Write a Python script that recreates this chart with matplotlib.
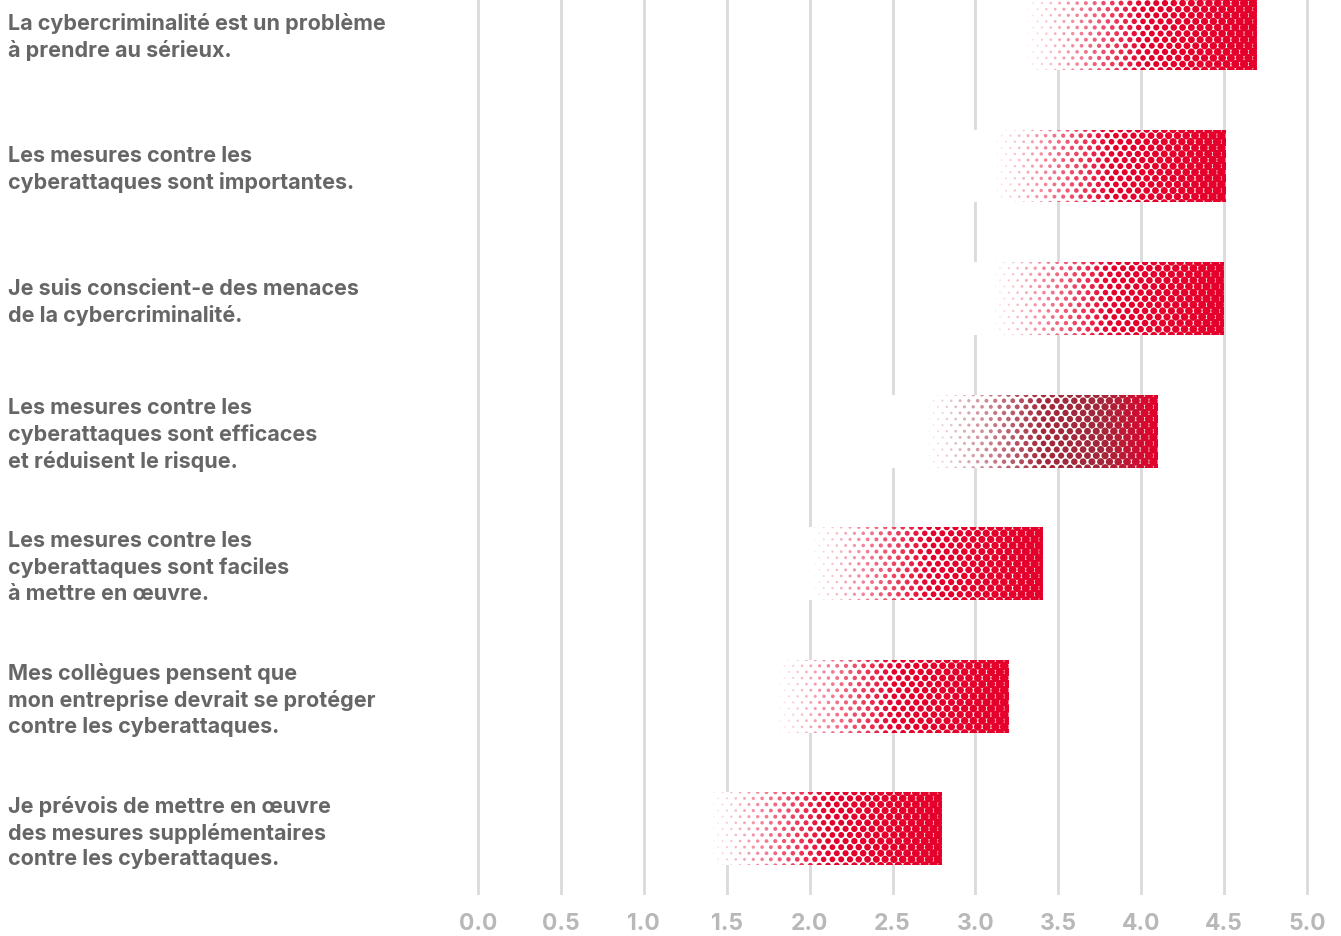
import numpy as np
import matplotlib.pyplot as plt
from matplotlib import transforms
from matplotlib.colors import to_rgb

labels = [
    'La cybercriminalité est un problème\nà prendre au sérieux.',
    'Les mesures contre les\ncyberattaques sont importantes.',
    'Je suis conscient-e des menaces\nde la cybercriminalité.',
    'Les mesures contre les\ncyberattaques sont efficaces\net réduisent le risque.',
    'Les mesures contre les\ncyberattaques sont faciles\nà mettre en œuvre.',
    'Mes collègues pensent que\nmon entreprise devrait se protéger\ncontre les cyberattaques.',
    'Je prévois de mettre en œuvre\ndes mesures supplémentaires\ncontre les cyberattaques.',
]
values = [4.70, 4.51, 4.50, 4.10, 3.41, 3.20, 2.80]
dark_bar = [False, False, False, True, False, False, False]
ticks = [0.0, 0.5, 1.0, 1.5, 2.0, 2.5, 3.0, 3.5, 4.0, 4.5, 5.0]

RED = np.array(to_rgb('#e4002b'))
DARK = np.array(to_rgb('#a1283a'))
WHITE = np.ones(3)

plt.rcParams['font.family'] = ['Inter', 'DejaVu Sans']

fig = plt.figure(figsize=(13.41, 9.37), dpi=100)
ax = fig.add_axes([469.7 / 1341, 41 / 937, 845.6 / 1341, 896 / 937])
ax.set_xlim(-0.05, 5.05)
ax.set_ylim(6.5, -0.26)
for s in ax.spines.values():
    s.set_visible(False)
ax.tick_params(left=False, bottom=False, labelleft=False)
ax.set_xticks(ticks)
ax.set_xticklabels([f'{t:.1f}' for t in ticks], fontsize=16.5, fontweight='bold', color='#b8b8b8')
ax.tick_params(axis='x', pad=9)
ax.set_yticks([])

ax.vlines(ticks, -0.26, 6.5, color='#dadada', lw=2, zorder=1)

bar_h = 0.55
fade = 1.38
white_len = 1.65
dx = 0.053
dy = 0.046
dmax = 6.2  # points

for i, (v, dark) in enumerate(zip(values, dark_bar)):
    rects = ax.barh(i, white_len, left=v - white_len, height=bar_h, color='white', zorder=2)
    rect = rects[0]
    xs, ys, sizes, cols = [], [], [], []
    nrows = int(bar_h / dy) + 3
    for r in range(nrows):
        yy = i - bar_h / 2 + r * dy
        off = (r % 2) * dx / 2
        x = v + off
        while x > v - fade:
            t = (x - (v - fade)) / fade
            t = min(max(t, 0.0), 1.0)
            a = min(1.0, 0.1 + 1.8 * t)
            base = RED
            if dark:
                k = min(1.0, max(0.0, (t - 0.75) / 0.25))
                base = DARK * (1 - k) + RED * k
            c = WHITE * (1 - a) + base * a
            d = dmax * (0.15 + 0.85 * t ** 0.75)
            xs.append(x)
            ys.append(yy)
            sizes.append(d ** 2)
            cols.append(c)
            x -= dx
    sc = ax.scatter(xs, ys, s=sizes, c=cols, marker='o', linewidths=0, zorder=3)
    sc.set_clip_path(rect)

trans = transforms.blended_transform_factory(fig.transFigure, ax.transData)
for i, lab in enumerate(labels):
    ax.text(8 / 1341, i + 0.02, lab, transform=trans, ha='left', va='center',
            fontsize=15.5, fontweight='bold', color='#666666', linespacing=1.35)

fig.savefig('out.png', dpi=100, facecolor='white')
